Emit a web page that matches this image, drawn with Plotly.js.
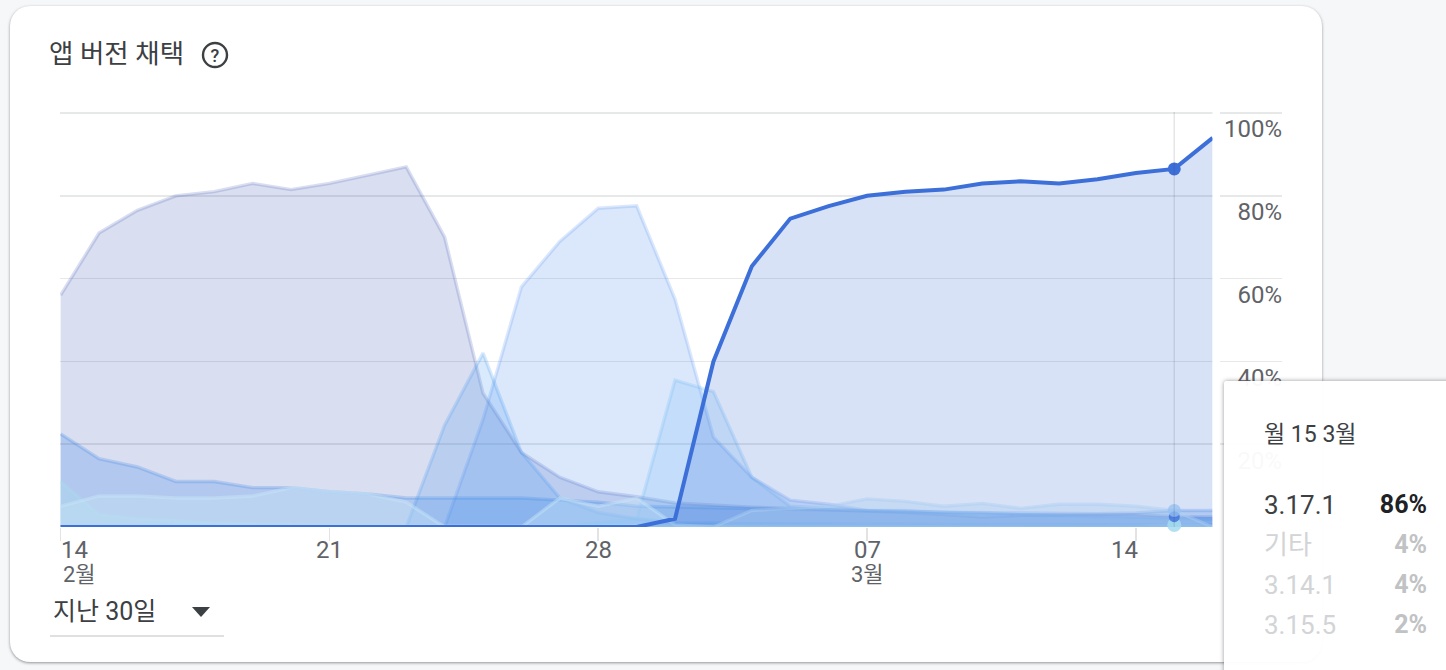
<!DOCTYPE html>
<html>
<head>
<meta charset="utf-8">
<script src="https://cdn.plot.ly/plotly-3.0.1.min.js"></script>
<style>
html,body{margin:0;padding:0;width:1446px;height:670px;overflow:hidden;background:#f6f7f9;}
body{font-family:Roboto,"Noto Sans CJK KR",sans-serif;position:relative;}
#card{position:absolute;left:10px;top:6px;width:1312px;height:656px;background:#fff;border-radius:20px;box-shadow:0 1px 3px rgba(60,64,67,.55);}
#chart{position:absolute;left:0;top:0;width:1446px;height:670px;}
.abs{position:absolute;white-space:nowrap;}
#tip{position:absolute;left:1224px;top:381px;width:240px;height:300px;background:rgba(255,255,255,.96);box-shadow:0 0 4px rgba(60,64,67,.55);border-radius:3px;}
</style>
</head>
<body>
<div id="card"></div>
<div id="chart"></div>
<svg class="abs" style="left:200px;top:41px" width="30" height="28" viewBox="0 0 30 28">
  <circle cx="15" cy="14" r="12" fill="none" stroke="#3c4043" stroke-width="2.4"/>
  <text x="15" y="20.5" text-anchor="middle" font-family="Roboto" font-size="18" font-weight="500" fill="#3c4043">?</text>
</svg>
<div class="abs" id="range" style="left:53px;top:596px;font-size:25px;line-height:32px;color:#3c4043"></div>
<svg class="abs" style="left:190px;top:605px" width="22" height="14"><path d="M2 2 H20 L11 12 Z" fill="#3c4043"/></svg>
<div class="abs" style="left:50px;top:635px;width:174px;height:2px;background:#e0e0e0"></div>
<div id="tip"></div>
<script>
var dayCount = 31;
var dates = [];
for (var n = 0; n < dayCount; n++) {
  dates.push(new Date(Date.UTC(2021, 1, 14 + n)).toISOString().slice(0, 10));
}
var v3171 = [0,0,0,0,0,0,0,0,0,0,0,0,0,0,0, 0,2,40,63,74.5,77.5,80,81,81.5,83,83.5,83,84,85.5,86.5,94];
var vOther = [5,7.5,7.5,7,7,7.5,9.5,8.5,8,6,0,0,0,7,5, 7,0.5,0,4,4.5,5,6.8,6.2,5,5.7,4.5,5.5,5.5,5,4,0];
var v3141 = [22.5,16.5,14.5,11,11,9.5,9.5,8.5,8,7,7,7,7,6.5,6, 5,4.8,4.6,4.4,4.2,4,4,3.8,3.6,3.4,3.4,3.2,3.2,3.4,4,4];
var v3155 = [56,71,76.5,80,81,83,81.5,83,85,87,70,32.3,18,12,8.5, 7.3,5.8,5.2,4.8,4.5,4.2,3.8,3.5,3,2.4,2.8,3,3,3,2.5,2.4];
var vOldB = [0,0,0,0,0,0,0,0,0,0,0,26,58,69,77, 77.6,55,21.7,12,6.5,5.5,4,4,3.5,3.5,3,2.8,2.5,2.3,2,2];
var vOldC = [0,0,0,0,0,0,0,0,0,0,24.6,42,18,7,3.5, 2,1,0.9,0.8,0.8,0.8,0.7,0.7,0.7,0.7,0.6,0.6,0.6,0.6,0.5,0.5];
var vOldD = [0,0,0,0,0,0,0,0,0,0,0,0,0,0,1, 2,35.5,32.7,12,5,4.5,4,3.8,3.5,3,2.8,2.5,2.3,2.2,2,1.8];
var vOldE = [11,3,2,1.5,1,0.8,0.5,0.4,0.3,0.3,0.2,0.2,0.2,0.2,0.2, 0.2,0.2,0.2,0.2,0.2,0.2,0.2,0.2,0.2,0.2,0.2,0.2,0.2,0.2,0.5,0.2];

var seriesNames = ['v3.15.5','v3.14.1','old-b','old-c','old-d','old-e','기타','3.17.1'];
var seriesValues = [v3155, v3141, vOldB, vOldC, vOldD, vOldE, vOther, v3171];
var seriesRGB = ['63,92,181','26,115,232','75,140,238','66,150,240','100,181,246','170,225,240','200,230,248','61,111,217'];
var seriesFillAlpha = [0.2,0.2,0.2,0.2,0.2,0.3,0.38,0.2];
var seriesLineAlpha = [0.2,0.2,0.2,0.22,0.22,0.3,0.45,1];

var yTicks = [0,20,40,60,80,100];
var yTickText = ['0%','20%','40%','60%','80%','100%'];
var xTicks = ['2021-02-14','2021-02-21','2021-02-28','2021-03-07','2021-03-14'];
var xDayText = ['14','21','28','07','14'];
var xMonthText = ['2월','','','3월',''];
var hoverDate = '2021-03-15';
var titleText = '앱 버전 채택';
var rangeText = '지난 30일';
var tipDate = '월 15 3월';
var tipNames = ['3.17.1','기타','3.14.1','3.15.5'];
var tipPct = ['86%','4%','4%','2%'];

document.getElementById('range').textContent = rangeText;
var tip = document.getElementById('tip');
var h = '<div class="abs" style="left:40px;top:39px;font-size:23px;line-height:30px;color:#3c4043">' + tipDate + '</div>';
tipNames.forEach(function (nm, i) {
  var top = 108 + i * 40;
  var c1 = i === 0 ? '#3c4043' : '#d2d4d6', c2 = i === 0 ? '#202124' : '#c0c2c4';
  h += '<div class="abs" style="left:40px;top:' + top + 'px;font-size:26px;line-height:32px;color:' + c1 + '">' + nm + '</div>';
  h += '<div class="abs" style="right:37px;top:' + top + 'px;font-size:25px;line-height:32px;font-weight:700;color:' + c2 + '">' + tipPct[i] + '</div>';
});
tip.innerHTML = h;

var traces = seriesValues.map(function (vals, i) {
  var main = i === seriesValues.length - 1;
  return {
    x: dates, y: vals, name: seriesNames[i], type: 'scatter', mode: 'lines', cliponaxis: !main,
    fill: 'tozeroy', fillcolor: 'rgba(' + seriesRGB[i] + ',' + seriesFillAlpha[i] + ')',
    line: {color: 'rgba(' + seriesRGB[i] + ',' + seriesLineAlpha[i] + ')', width: main ? 4 : 3.4},
    hoverinfo: 'skip', showlegend: false
  };
});
var hi = dates.indexOf(hoverDate);
[[vOldE,'165,218,240',0.85,14],[v3155,'61,111,217',0.8,11],[v3141,'150,192,242',0.75,13],[v3171,'61,111,217',1,13]].forEach(function (m) {
  traces.push({x: [hoverDate], y: [m[0][hi]], type: 'scatter', mode: 'markers', cliponaxis: false,
    marker: {size: m[3], color: 'rgba(' + m[1] + ',' + m[2] + ')'}, hoverinfo: 'skip', showlegend: false});
});

var PL = 60, PR = 1282, PT = 112, PB = 527;
var annotations = [];
xTicks.forEach(function (t, i) {
  var anchor = i === 0 ? 'left' : (i === xTicks.length - 1 ? 'right' : 'center');
  annotations.push({x: t, xref: 'x', y: (PB - 550) / (PB - PT), yref: 'paper', text: xDayText[i], showarrow: false,
    xanchor: anchor, yanchor: 'middle', xshift: anchor === 'right' ? 2 : 0, borderpad: 0, borderwidth: 0,
    font: {family: 'Roboto', size: 24, color: '#5f6368'}});
  if (xMonthText[i]) annotations.push({x: t, xref: 'x', y: (PB - 574) / (PB - PT), yref: 'paper', text: xMonthText[i], showarrow: false,
    xanchor: anchor, yanchor: 'middle', font: {family: 'Roboto, "Noto Sans CJK KR"', size: 22, color: '#5f6368'}});
});

var layout = {
  width: 1446, height: 670,
  paper_bgcolor: 'rgba(0,0,0,0)', plot_bgcolor: 'rgba(0,0,0,0)',
  margin: {l: PL, r: 1446 - PR, t: PT, b: 670 - PB, pad: 0},
  title: {text: titleText, x: 49 / 1446, xref: 'container', xanchor: 'left', y: 1 - 54 / 670, yref: 'container', yanchor: 'middle',
    font: {family: 'Roboto, "Noto Sans CJK KR"', size: 26.5, color: '#3c4043'}},
  xaxis: {type: 'date', range: ['2021-02-13 23:37', '2021-03-17 19:20'], tickmode: 'array', tickvals: xTicks, ticktext: xDayText,
    showticklabels: false, showgrid: false, zeroline: false, showline: false,
    ticks: 'outside', ticklen: 13, tickwidth: 1.5, tickcolor: '#e3e3e3'},
  yaxis: {range: [0, 100.25], side: 'right', tickmode: 'array', tickvals: yTicks, ticktext: yTickText,
    ticklabelposition: 'inside', ticklabelshift: 16, ticklabelstandoff: -3, ticks: '', showgrid: true, gridcolor: 'rgba(60,64,67,0.12)', gridwidth: 1.5,
    zeroline: false, showline: false, tickfont: {family: 'Roboto', size: 24, color: '#5f6368'}},
  shapes: [
    {type: 'line', xref: 'x', yref: 'paper', x0: hoverDate, x1: hoverDate, y0: 0, y1: 1, layer: 'above',
      line: {color: 'rgba(60,64,67,0.13)', width: 1.5}},
    {type: 'rect', xref: 'paper', yref: 'paper', x0: (1212.5 - PL) / (PR - PL), x1: (1220 - PL) / (PR - PL), y0: -0.005, y1: 1.01, layer: 'above',
      line: {width: 0}, fillcolor: '#ffffff'}
  ],
  annotations: annotations,
  hovermode: false
};
Plotly.newPlot('chart', traces, layout, {displayModeBar: false, staticPlot: true});
</script>
</body>
</html>
